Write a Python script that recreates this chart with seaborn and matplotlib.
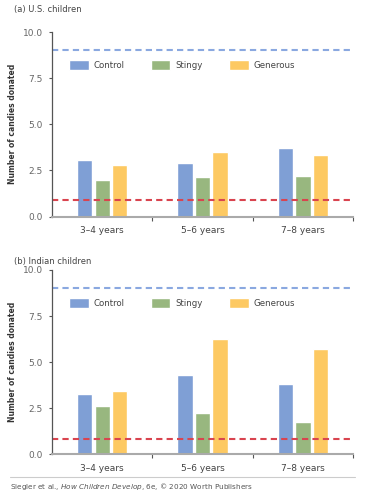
import pandas as pd
import matplotlib.pyplot as plt
import seaborn as sns
from matplotlib.lines import Line2D
from matplotlib.ticker import FixedLocator

# Data
ages = ['3–4 years', '5–6 years', '7–8 years']
conditions = ['Control', 'Stingy', 'Generous']
us_control = [3.08, 2.91, 3.72]
us_stingy = [1.96, 2.15, 2.20]
us_generous = [2.77, 3.50, 3.36]
india_control = [3.29, 4.29, 3.83]
india_stingy = [2.60, 2.22, 1.77]
india_generous = [3.42, 6.26, 5.73]
upper_ref = [9.0, 9.0]   # blue dashed line (US, India)
lower_ref = [0.87, 0.83]  # red dashed line (US, India)
panel_titles = ['(a) U.S. children', '(b) Indian children']
yticks = [0.0, 2.5, 5.0, 7.5, 10.0]


def long_form(ctrl, sting, gen):
    rows = []
    for cond, vals in zip(conditions, [ctrl, sting, gen]):
        for age, v in zip(ages, vals):
            rows.append({'age': age, 'condition': cond, 'candies': v})
    return pd.DataFrame(rows)


panels = [long_form(us_control, us_stingy, us_generous),
          long_form(india_control, india_stingy, india_generous)]

sns.set_theme(style='white')
plt.rcParams['font.family'] = ['DejaVu Sans']
palette = {'Control': '#7f9fd5', 'Stingy': '#98b77f', 'Generous': '#fdc962'}
text_col = '#444444'

fig = plt.figure(figsize=(3.92, 4.94), dpi=100)
rects = [[0.1327, 0.5617, 0.7679, 0.3735], [0.1327, 0.0804, 0.7679, 0.3731]]
title_y = [0.980, 0.470]

for i, df in enumerate(panels):
    ax = fig.add_axes(rects[i])
    sns.barplot(data=df, x='age', y='candies', hue='condition', order=ages,
                hue_order=conditions, palette=palette, width=0.52, gap=0.12,
                saturation=1, ax=ax, legend=True)
    ax.axhline(upper_ref[i], color='#8aa8e0', ls=(0, (3, 2)), lw=1.5)
    ax.axhline(lower_ref[i], color='#d9444f', ls=(0, (3, 2)), lw=1.5)
    ax.set_xlim(-0.5, 2.5)
    ax.set_ylim(0, 10)
    ax.set_yticks(yticks)
    ax.set_yticklabels([f'{t:.1f}' for t in yticks], fontsize=6.5, color='#666666')
    ax.set_xlabel('')
    ax.set_ylabel('Number of candies donated', fontsize=5.5, fontweight='bold',
                  color='#333333', labelpad=4)
    ax.tick_params(axis='x', which='major', length=0, labelsize=6.5,
                   labelcolor=text_col, pad=7)
    ax.xaxis.set_minor_locator(FixedLocator([0.5, 1.5, 2.5]))
    ax.tick_params(axis='x', which='minor', bottom=True, length=3, width=0.8,
                   color='#555555', direction='out')
    ax.tick_params(axis='y', left=True, length=2.5, width=0.8, color='#555555', pad=4)
    sns.despine(ax=ax)
    ax.spines['left'].set_color('#555555')
    ax.spines['left'].set_linewidth(0.9)
    ax.spines['bottom'].set_color('#aaaaaa')
    ax.spines['bottom'].set_linewidth(1.5)
    ax.legend(loc='center left', bbox_to_anchor=(0.03, 0.82), ncol=3, frameon=False,
              fontsize=6.2, handlelength=2.3, handleheight=1.4, columnspacing=3.0,
              handletextpad=0.6, labelcolor=text_col)
    fig.text(0.035, title_y[i], panel_titles[i], fontsize=6, color=text_col,
             va='center', ha='left')

fig.add_artist(Line2D([0.025, 0.905], [1 - 477 / 494, 1 - 477 / 494],
                      color='#cccccc', lw=0.8, transform=fig.transFigure))
fig.text(0.025, 1 - 486 / 494, 'Siegler et al., $\\it{How\\ Children\\ Develop}$, 6e, © 2020 Worth Publishers',
         fontsize=5.2, color='#555555', va='center', ha='left')

fig.savefig('out.png', dpi=100)
